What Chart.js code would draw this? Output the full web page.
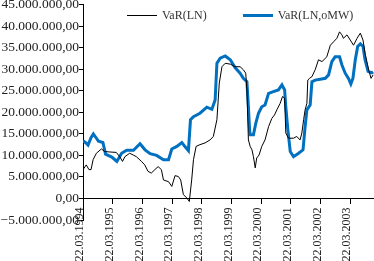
<!DOCTYPE html>
<html>
<head>
<meta charset="utf-8">
<script src="https://cdn.jsdelivr.net/npm/chart.js@4.4.1/dist/chart.umd.min.js"></script>
<style>
  html, body { margin: 0; padding: 0; background: #fff; overflow: hidden; }
  #wrap { position: relative; width: 374px; height: 261px; }
  #legend { position: absolute; left: 127px; top: 8px; display: flex; align-items: center;
            font: 12px 'Liberation Serif', serif; color: #333; white-space: nowrap; }
  .item { display: flex; align-items: center; margin-right: 36px; }
  .swatch { width: 30px; margin-right: 5px; }
</style>
</head>
<body>
<div id="wrap">
  <canvas id="grafico" width="374" height="261"></canvas>
  <div id="legend"></div>
</div>
<script>
// years since 22.03.1994 and values in millions
const lnT = [0.00,0.11,0.20,0.27,0.34,0.45,0.62,0.73,0.90,1.12,1.24,1.33,1.41,1.57,1.69,1.80,1.97,2.08,2.19,2.30,
  2.42,2.53,2.64,2.71,2.88,2.99,3.10,3.21,3.29,3.38,3.50,3.58,3.66,3.72,3.81,3.94,4.11,4.28,4.39,4.51,
  4.59,4.68,4.79,4.96,5.12,5.29,5.40,5.48,5.52,5.57,5.63,5.69,5.74,5.80,5.85,5.93,6.02,6.13,6.25,6.36,
  6.45,6.53,6.64,6.72,6.79,6.83,6.92,7.09,7.20,7.31,7.37,7.43,7.48,7.54,7.57,7.63,7.71,7.82,7.93,8.05,
  8.21,8.33,8.44,8.55,8.64,8.72,8.77,8.89,9.00,9.11,9.23,9.34,9.43,9.50,9.62,9.70,9.77];
const lnV = [6.7,7.8,6.7,6.7,9.0,10.5,11.5,10.9,10.8,10.7,9.7,8.6,9.7,10.5,10.1,9.7,8.6,7.8,6.3,5.9,
  6.7,7.4,6.7,4.3,3.9,2.8,5.3,5.1,4.3,0.9,0.1,-0.7,4.3,9.0,12.1,12.5,12.9,13.6,14.4,18.3,
  26.8,30.6,31.4,31.2,30.6,30.6,29.9,29.1,25.2,13.6,12.1,11.3,9.7,7.1,9.4,10.1,12.1,13.6,16.7,18.6,
  19.4,20.6,22.1,23.7,23.3,15.2,14.0,14.0,14.4,13.6,15.2,18.3,20.6,22.1,27.5,27.9,28.3,29.9,32.2,31.8,
  32.9,35.6,36.4,37.2,38.7,38.0,37.2,38.0,36.8,35.6,37.2,38.4,36.8,33.7,29.9,27.9,28.7];

const omwT = [0.00,0.10,0.17,0.27,0.35,0.44,0.52,0.67,0.76,0.97,1.14,1.30,1.47,1.70,1.92,2.09,2.26,2.48,2.71,2.88,
  2.99,3.16,3.33,3.44,3.55,3.62,3.72,3.94,4.17,4.34,4.45,4.51,4.62,4.79,4.96,5.12,5.29,5.40,5.52,5.57,
  5.61,5.63,5.74,5.82,5.91,6.02,6.13,6.25,6.41,6.58,6.70,6.79,6.83,6.90,6.98,7.09,7.26,7.41,7.48,7.54,
  7.65,7.71,7.82,7.99,8.16,8.27,8.38,8.49,8.64,8.72,8.83,8.94,9.02,9.09,9.17,9.25,9.34,9.43,9.50,9.60,
  9.73,9.77];
const omwV = [13.4,12.9,12.4,14.1,15.0,14.1,13.3,13.0,10.3,9.6,8.6,10.5,11.2,11.2,12.7,11.3,10.4,10.0,9.0,9.0,
  11.5,12.1,13.0,12.0,11.1,18.3,19.0,19.8,21.2,20.7,22.9,31.4,32.6,33.1,32.2,30.4,29.1,27.9,27.1,21.3,
  15.9,14.8,14.8,17.5,19.8,21.3,21.7,24.4,24.8,25.2,26.4,25.2,21.3,15.9,10.9,9.7,10.5,11.3,16.7,20.6,
  21.7,27.1,27.5,27.7,27.9,28.7,31.8,32.9,32.9,31.0,29.1,27.9,26.6,27.9,32.2,35.3,35.9,35.3,32.2,29.5,
  29.2,29.4];

const tickLabels = ['22.03.1994','22.03.1995','22.03.1996','22.03.1997','22.03.1998',
  '22.03.1999','22.03.2000','22.03.2001','22.03.2002','22.03.2003'];
const seriesNames = ['VaR(LN)', 'VaR(LN,oMW)'];

function pontos(t, v){
  return t.map((x, i) => ({x: x, y: v[i] * 1e6}));
}

function formatar(v){
  let s = Math.abs(Math.round(v)).toString().replace(/\B(?=(\d{3})+(?!\d))/g, '.');
  return (v < 0 ? '\u2212' : '') + s + ',00';
}

const fonte = 'Liberation Serif';

const chart = new Chart(document.getElementById('grafico').getContext('2d'), {
  type: 'line',
  data: {
    datasets: [{
      label: seriesNames[0],
      data: pontos(lnT, lnV),
      borderColor: '#000',
      backgroundColor: '#000',
      borderWidth: 1
    }, {
      label: seriesNames[1],
      data: pontos(omwT, omwV),
      borderColor: 'rgb(0,112,192)',
      backgroundColor: 'rgb(0,112,192)',
      borderWidth: 3
    }]
  },
  options: {
    responsive: false,
    animation: false,
    events: [],
    elements: { point: { radius: 0 }, line: { tension: 0 } },
    layout: { padding: { left: 0, right: 0, top: 0, bottom: 41 } },
    plugins: { legend: { display: false }, tooltip: { enabled: false } },
    scales: {
      x: {
        type: 'linear',
        min: 0,
        max: 9.8,
        position: { y: 0 },
        grid: { drawOnChartArea: false, drawTicks: true, tickLength: 5, color: '#000' },
        border: { color: '#000', width: 1 },
        ticks: {
          stepSize: 1, autoSkip: false, includeBounds: false,
          maxRotation: 90, minRotation: 90, padding: 4, labelOffset: -3,
          color: '#222', font: { family: fonte, size: 12 },
          callback: v => tickLabels[v]
        }
      },
      y: {
        min: -5e6,
        max: 45e6,
        grid: { drawOnChartArea: false, tickLength: 4, color: '#000' },
        border: { color: '#000', width: 1 },
        ticks: {
          stepSize: 5e6, padding: 0, color: '#222',
          font: { family: fonte, size: 13.5, lineHeight: 0.7 },
          callback: formatar
        },
        afterFit: s => { s.width = 83; }
      }
    }
  }
});

// legend as html, taken from the datasets
const legenda = document.getElementById('legend');
chart.data.datasets.forEach(ds => {
  const item = document.createElement('span');
  item.className = 'item';
  const sw = document.createElement('span');
  sw.className = 'swatch';
  sw.style.borderTop = ds.borderWidth + 'px solid ' + ds.borderColor;
  const txt = document.createElement('span');
  txt.textContent = ds.label;
  item.appendChild(sw);
  item.appendChild(txt);
  legenda.appendChild(item);
});
</script>
</body>
</html>
